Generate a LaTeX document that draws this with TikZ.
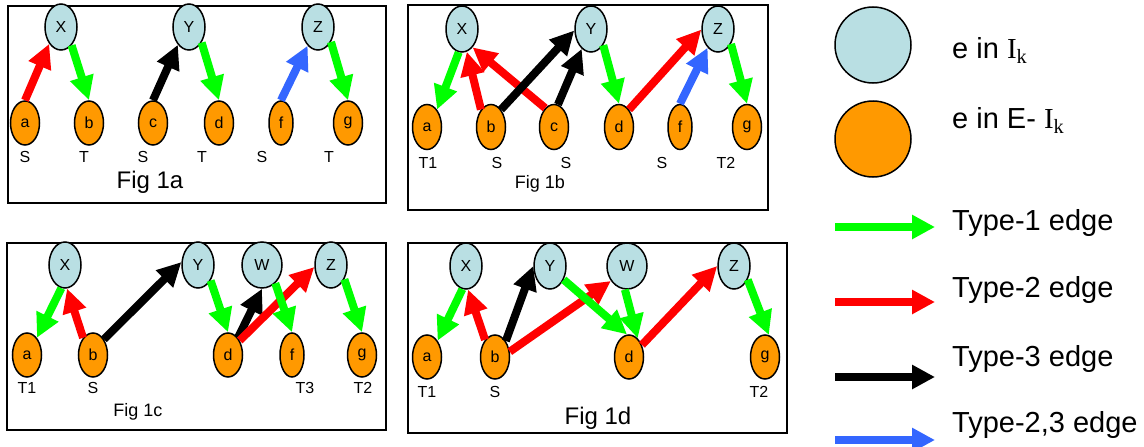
\documentclass[tikz,border=0pt]{standalone}
\usepackage{fontspec}
\setmainfont{Liberation Sans}
\newfontfamily\serifI{Liberation Serif}
\usetikzlibrary{arrows.meta,shapes.geometric}
\definecolor{nodeblue}{HTML}{B9DFE3}
\definecolor{nodeorange}{HTML}{FF9900}
\definecolor{typegreen}{HTML}{00FF00}
\definecolor{typered}{HTML}{FF0000}
\definecolor{typeblue}{HTML}{3366FF}
\newcommand{\fsz}[1]{\fontsize{#1}{#1}\selectfont}
\newcommand{\Ik}{{\serifI I\textsubscript{k}}}
\tikzset{
    topnode/.style={ellipse,draw,line width=1.5pt,fill=nodeblue,inner sep=0pt,
        minimum width=32pt,minimum height=46pt,font=\fsz{16}},
    basenode/.style={ellipse,draw,line width=1.5pt,fill=nodeorange,inner sep=0pt,
        minimum width=29pt,minimum height=44pt,font=\fsz{16}},
    thinnode/.style={basenode,minimum width=24pt},
    widenode/.style={topnode,minimum width=40pt},
    sublabel/.style={font=\fsz{16}},
    panel/.style={draw,line width=1.8pt},
    flow/.style={line width=8pt,-{Triangle[length=24pt,width=23pt]}},
    typeone/.style={flow,draw=typegreen},
    typetwo/.style={flow,draw=typered},
    typethree/.style={flow,draw=black},
    typemix/.style={flow,draw=typeblue},
}

\begin{document}
\begin{tikzpicture}[x=1pt,y=-1pt]
        \useasboundingbox (0,0) rectangle (1144,447);
        \draw[panel] (8,6) rectangle (386,203);
        \foreach \n/\x in {X/61,Y/189,Z/318}
        \node[topnode] (A-\n) at (\x,27) {\n};
        \foreach \n/\x/\s in {a/25/basenode,b/89/basenode,c/153/basenode,d/219/basenode,f/281/thinnode,g/348/basenode}
        \node[\s] (A-\n) at (\x,123) {\n};
        \foreach \t/\x [count=\i] in {S/25,T/84,S/143,T/202,S/262,T/329}
        \node[sublabel] (A-l\i) at (\x,157) {\t};
        \node[font=\fsz{24}] (A-cap) at (150,182) {Fig 1a};
        \draw[typetwo] (A-a.north) -- (A-X.235);
        \draw[typeone] (A-X.300) -- (A-b.north);
        \draw[typethree] (A-c.north) -- (A-Y.238);
        \draw[typeone] (A-Y.309) -- (A-d.north);
        \draw[typemix] (A-f.north) -- (A-Z.241);
        \draw[typeone] (A-Z.311) -- (A-g.north);

        \draw[panel] (408,5) rectangle (768,210);
        \foreach \n/\x in {X/462,Y/591,Z/718}
        \node[topnode] (B-\n) at (\x,29) {\n};
        \foreach \n/\x/\s in {a/427/basenode,b/491/basenode,c/554/basenode,d/619/basenode,f/680/thinnode,g/747/basenode}
        \node[\s,minimum height=45pt] (B-\n) at (\x,127) {\n};
        \foreach \t/\x [count=\i] in {T1/428,S/497,S/566,S/662,T2/726}
        \node[sublabel] (B-l\i) at (\x,163) {\t};
        \node[font=\fsz{18}] (B-cap) at (540,184) {Fig 1b};
        \draw[typeone] (B-X.262) -- (B-a.60);
        \draw[typetwo] (B-b.120) -- (B-X.282);
        \draw[typetwo] (B-c.115) -- (B-X.300);
        \draw[typethree] (B-b.60) -- (B-Y.185);
        \draw[typethree] (B-c.80) -- (B-Y.245);
        \draw[typeone] (B-Y.307) -- (B-d.north);
        \draw[typetwo] (B-d.60) -- (B-Z.182);
        \draw[typemix] (B-f.north) -- (B-Z.241);
        \draw[typeone] (B-Z.311) -- (B-g.north);

        \draw[panel] (7,243) rectangle (386,430);
        \foreach \n/\x/\s in {X/65/topnode,Y/198/topnode,W/262/widenode,Z/331/topnode}
        \node[\s] (C-\n) at (\x,265) {\n};
        \foreach \n/\x/\s in {a/27/basenode,b/93/basenode,d/228/basenode,f/292/thinnode,g/362/basenode}
        \node[\s] (C-\n) at (\x,355) {\n};
        \foreach \t/\x [count=\i] in {T1/27,S/93,T3/305,T2/363}
        \node[sublabel] (C-l\i) at (\x,388) {\t};
        \node[font=\fsz{18}] (C-cap) at (138,412) {Fig 1c};
        \draw[typeone] (C-X.261) -- (C-a.60);
        \draw[typetwo] (C-b.120) -- (C-X.275);
        \draw[typethree] (C-b.55) -- (C-Y.170);
        \draw[typeone] (C-Y.309) -- (C-d.north);
        \draw[typethree] (C-d.60) -- (C-W.south);
        \draw[typetwo] (C-d.51) -- (C-Z.187);
        \draw[typeone] (C-W.306) -- (C-f.north);
        \draw[typeone] (C-Z.313) -- (C-g.north);

        \draw[panel] (408,243) rectangle (787,433);
        \foreach \n/\x/\s in {X/466/topnode,Y/550/topnode,W/627/widenode,Z/734/topnode}
        \node[\s] (D-\n) at (\x,266) {\n};
        \foreach \n/\x in {a/427,b/495,d/629,g/765}
        \node[basenode] (D-\n) at (\x,357) {\n};
        \foreach \t/\x [count=\i] in {T1/427,S/495,T2/759}
        \node[sublabel] (D-l\i) at (\x,392) {\t};
        \node[font=\fsz{24}] (D-cap) at (598,418) {Fig 1d};
        \draw[typeone] (D-X.261) -- (D-a.57);
        \draw[typetwo] (D-b.120) -- (D-X.275);
        \draw[typethree] (D-b.56) -- (D-Y.180);
        \draw[typetwo] (D-b.20) -- (D-W.223);
        \draw[typeone] (D-Y.315) -- (D-d.95);
        \draw[typeone] (D-W.265) -- (D-d.65);
        \draw[typetwo] (D-d.43) -- (D-Z.180);
        \draw[typeone] (D-Z.315) -- (D-g.80);

        \node[circle,draw,line width=1.5pt,fill=nodeblue,minimum size=76pt] (key-top) at (873,45) {};
        \node[circle,draw,line width=1.5pt,fill=nodeorange,minimum size=76pt] (key-base) at (873,139) {};
        \node[font=\fsz{29},anchor=base west,inner sep=0pt] (key-toptext) at (952,58) {e in \Ik};
        \node[font=\fsz{29},anchor=base west,inner sep=0pt] (key-basetext) at (952,128) {e in E- \Ik};
        \foreach \k/\y/\s/\t/\b in {1/227/typeone/Type-1 edge/230,2/302/typetwo/Type-2 edge/297,3/377/typethree/Type-3 edge/366,4/440/typemix/{Type-2,3 edge}/432} {
            \coordinate (key\k-start) at (835,\y);
            \coordinate (key\k-end) at (935,\y);
            \draw[\s,-{Triangle[length=23pt,width=23pt]}] (key\k-start) -- (key\k-end);
            \node[font=\fsz{29},anchor=base west,inner sep=0pt] (key\k-text) at (952,\b) {\t};
        }
\end{tikzpicture}
\end{document}
